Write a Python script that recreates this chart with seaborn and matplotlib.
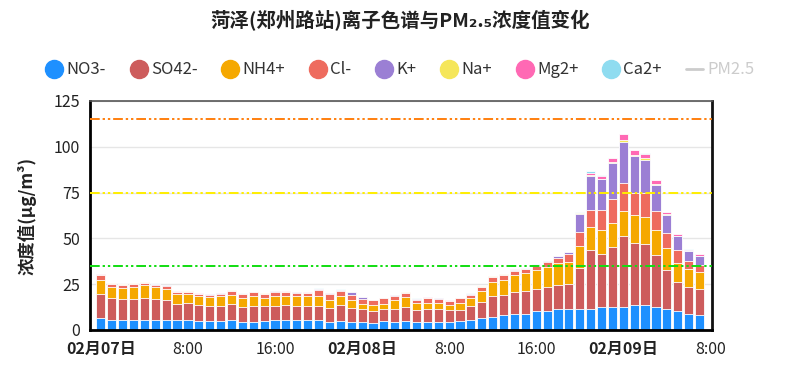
import matplotlib
matplotlib.use("Agg")
import matplotlib.pyplot as plt
from matplotlib.lines import Line2D
import pandas as pd
import seaborn as sns

# hourly samples 02-07 00:00 .. 02-09 07:00
hours = list(range(56))

no3 = [6.6, 5.3, 5.3, 5.7, 5.7, 5.7, 5.7, 5.3, 5.3, 4.8, 4.8, 4.8, 5.3, 4.6,
       4.6, 5.0, 5.3, 5.7, 5.3, 5.3, 5.3, 4.2, 4.8, 4.5, 4.3, 3.7, 4.8, 4.3,
       4.8, 4.5, 4.5, 4.5, 4.5, 4.8, 5.3, 6.4, 7.0, 8.1, 9.0, 9.0, 10.1, 10.6,
       11.7, 11.7, 11.7, 11.5, 12.6, 12.3, 12.6, 13.7, 13.7, 12.6, 11.5, 10.1, 9.0, 8.3]
so4 = [13.1, 11.9, 11.6, 11.2, 11.8, 11.2, 10.6, 9.0, 9.4, 9.0, 8.5, 8.5, 8.9, 8.0,
       8.7, 8.1, 8.0, 8.1, 8.0, 8.0, 8.0, 7.8, 8.6, 7.6, 6.9, 6.9, 6.7, 7.2,
       8.0, 6.3, 6.7, 6.8, 6.3, 6.2, 7.7, 9.0, 11.4, 10.9, 11.6, 12.1, 12.3, 12.7,
       13.1, 13.6, 22.2, 32.0, 28.9, 32.8, 38.5, 33.8, 33.4, 28.1, 21.5, 16.3, 14.3, 14.1]
nh4 = [7.8, 6.5, 6.1, 6.8, 6.8, 6.3, 6.3, 5.3, 4.9, 4.5, 4.6, 5.1, 5.1, 4.9,
       5.1, 4.4, 5.3, 4.8, 5.1, 5.1, 5.3, 4.6, 5.0, 4.5, 3.2, 2.9, 2.9, 4.7,
       5.1, 3.8, 3.6, 3.3, 3.1, 3.6, 4.5, 6.1, 8.0, 8.5, 9.6, 10.0, 10.4, 11.1,
       11.8, 11.6, 11.7, 12.5, 12.9, 13.1, 14.0, 15.0, 14.7, 14.0, 11.9, 10.4, 10.2, 9.3]
cl = [2.3, 1.3, 1.6, 1.4, 1.4, 1.6, 1.4, 1.1, 1.2, 1.3, 1.3, 1.5, 1.8, 2.0,
      2.1, 2.2, 2.3, 2.1, 1.7, 1.8, 3.3, 2.8, 2.8, 2.4, 2.6, 2.7, 2.8, 2.5,
      2.1, 1.8, 2.7, 2.4, 1.9, 2.8, 1.7, 1.9, 2.3, 2.3, 2.2, 2.0, 2.2, 2.6,
      2.7, 4.8, 7.7, 9.6, 11.2, 13.3, 15.1, 12.2, 12.9, 10.0, 8.0, 7.0, 4.3, 4.0]
k = [0.3, 0.2, 0.2, 0.2, 0.2, 0.3, 0.5, 0.2, 0.2, 0.2, 0.2, 0.2, 0.2, 0.2,
     0.2, 0.2, 0.2, 0.2, 0.4, 0.2, 0.5, 0.7, 0.7, 1.5, 0.8, 0.1, 0.2, 0.3,
     0.2, 0.6, 0.1, 0.2, 0.2, 0.1, 0.5, 0.3, 0.4, 0.4, 0.5, 0.3, 0.5, 0.6,
     1.1, 0.6, 10.2, 18.5, 16.7, 19.6, 22.6, 20.3, 18.2, 14.5, 10.0, 7.3, 5.1, 4.5]
na = [0.1, 0.2, 0.1, 0.3, 0.1, 0.1, 0.05, 0.1, 0.1, 0.05, 0.05, 0.1, 0.3, 0.05,
      0.05, 0.05, 0.05, 0.05, 0.05, 0.05, 0.05, 0.05, 0.05, 0.05, 0.05, 0.05, 0.05, 0.05,
      0.4, 0.05, 0.05, 0.05, 0.05, 0.05, 0.1, 0.1, 0.1, 0.1, 0.05, 0.05, 0.1, 0.05,
      0.05, 0.4, 0.2, 0.6, 0.3, 0.6, 0.8, 0.4, 0.8, 0.2, 0.2, 0.2, 0.2, 0.2]
mg = [0.1, 0.1, 0.1, 0.05, 0.1, 0.1, 0.1, 0.1, 0.1, 0.1, 0.1, 0.1, 0.05, 0.1,
      0.15, 0.1, 0.1, 0.1, 0.1, 0.2, 0.1, 0.1, 0.1, 0.1, 0.1, 0.05, 0.15, 0.1,
      0.1, 0.1, 0.1, 0.05, 0.05, 0.1, 0.1, 0.1, 0.1, 0.1, 0.1, 0.1, 0.1, 0.15,
      0.1, 0.05, 0.2, 1.2, 1.6, 2.2, 3.4, 2.7, 2.1, 2.4, 1.1, 0.9, 0.7, 0.9]
ca = [0.3, 0.2, 0.1, 0.1, 0.2, 0.1, 0.1, 0.1, 0.3, 0.1, 0.1, 0.1, 0.1, 0.1,
      0.1, 0.1, 0.1, 0.1, 0.1, 0.1, 0.1, 0.1, 0.1, 0.1, 0.1, 0.05, 0.1, 0.1,
      0.1, 0.1, 0.05, 0.05, 0.05, 0.05, 0.1, 0.2, 0.2, 0.2, 0.1, 0.1, 0.1, 0.1,
      0.1, 0.05, 0.5, 0.8, 0.5, 0.2, 0.2, 0.2, 1.0, 0.2, 0.2, 0.2, 0.2, 0.2]

ions = ['NO3-', 'SO42-', 'NH4+', 'Cl-', 'K+', 'Na+', 'Mg2+', 'Ca2+']
ion_colors = ['#1e90ff', '#cd5c5c', '#f5a800', '#ee6b5e', '#9b7fd4',
              '#f5e65a', '#ff69b4', '#8fdcf0']

# PM2.5 grade limits
limits = [35, 75, 115]
limit_colors = ['#11dd11', '#ffee00', '#ff7f0e']

tick_pos = [0, 8, 16, 24, 32, 40, 48, 56]
tick_labels = ['02月07日', '8:00', '16:00', '02月08日', '8:00', '16:00', '02月09日', '8:00']

df = pd.DataFrame({'hour': hours})
for name, vals in zip(ions, [no3, so4, nh4, cl, k, na, mg, ca]):
    df[name] = vals
cum = df[ions].cumsum(axis=1)

sns.set_theme(style="white")
plt.rcParams['font.family'] = ['Noto Sans CJK SC', 'DejaVu Sans']

fig = plt.figure(figsize=(8, 3.78), dpi=100)
ax = fig.add_axes([0.1125, 0.127, 0.7775, 0.606])

# stacked bars: draw cumulative totals from the top layer down
for ion, color in reversed(list(zip(ions, ion_colors))):
    sns.barplot(x=df['hour'], y=cum[ion], color=color, saturation=1,
                native_scale=True, width=0.84, errorbar=None,
                edgecolor='white', linewidth=0.6, ax=ax)

for lim, c in zip(limits, limit_colors):
    ax.axhline(lim, color=c, lw=1.4, ls=(0, (5, 1.5, 1.2, 1.5, 1.2, 1.5)), zorder=3)

ax.set_xlim(-1, 56.15)
ax.set_ylim(0, 125)
ax.set_yticks([0, 25, 50, 75, 100, 125])
ax.set_xticks(tick_pos)
ax.set_xticklabels(tick_labels)
for lbl in ax.get_xticklabels():
    if '月' in lbl.get_text():
        lbl.set_fontweight('bold')
ax.yaxis.grid(True, color='#e6e6e6', lw=1)
ax.set_axisbelow(True)
ax.set_xlabel('')
ax.set_ylabel('浓度值(μg/m³)', fontsize=12.5, fontweight='bold', color='#222',
              labelpad=12)
ax.tick_params(axis='y', direction='out', length=5, width=1.5, color='black',
               labelsize=11.5, labelcolor='#222', pad=2)
ax.tick_params(axis='x', direction='out', length=5, width=1.5, color='black',
               labelsize=11.5, labelcolor='#222', pad=3)
for side in ['left', 'bottom']:
    ax.spines[side].set_linewidth(2)
    ax.spines[side].set_color('black')
ax.spines['right'].set_linewidth(2)
ax.spines['right'].set_color('#111')
ax.spines['top'].set_linewidth(1.2)
ax.spines['top'].set_color('#555')

handles = [Line2D([], [], marker='o', ls='', markersize=13, markerfacecolor=c,
                  markeredgecolor=c) for c in ion_colors]
handles.append(Line2D([], [], color='#cccccc', lw=2))
leg = fig.legend(handles, ions + ['PM2.5'], loc='center', bbox_to_anchor=(0.5, 0.815),
                 ncol=9, frameon=False, fontsize=12, handletextpad=0.25,
                 columnspacing=1.45, handlelength=1.0)
for t in leg.get_texts():
    t.set_color('#333333')
leg.get_texts()[-1].set_color('#cccccc')

fig.suptitle('菏泽(郑州路站)离子色谱与PM₂.₅浓度值变化', x=0.5, y=0.975,
             fontsize=14, fontweight='bold', color='#222')

fig.savefig('out.png', dpi=100)
